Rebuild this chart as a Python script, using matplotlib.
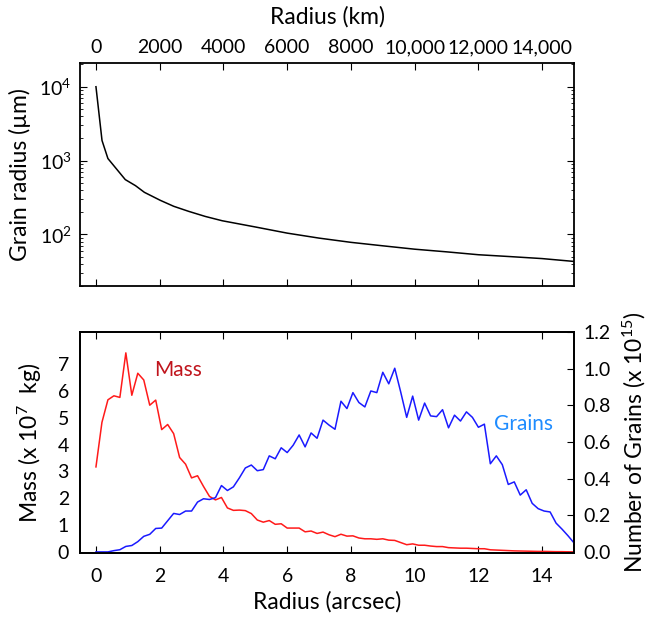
import numpy as np
import matplotlib
matplotlib.use("Agg")
import matplotlib.pyplot as plt
from matplotlib.ticker import FixedLocator, LogLocator, NullFormatter

plt.rcParams['font.family'] = ['Lato', 'DejaVu Sans']
plt.rcParams['mathtext.fontset'] = 'custom'
plt.rcParams['mathtext.rm'] = 'Lato'
plt.rcParams['mathtext.it'] = 'Lato:italic'

# grain radius vs radius (top panel)
grain_r_km = [0, 190, 375, 660, 920, 1240, 1520, 2020, 2440, 2910, 3430, 3960,
              5000, 6000, 7000, 8000, 9000, 10000, 11000, 12000, 13000, 14000, 15000]
grain_size = [10000, 1870, 1065, 755, 552, 457, 371, 289, 240, 205, 175, 153,
              126, 104, 89, 78, 70, 63, 58, 53, 50, 47, 43]

# bottom panel, 81 radial bins of 0.1875 arcsec
step = 0.1875
mass = [3.17, 4.83, 5.67, 5.82, 5.76, 7.42, 5.84, 6.66, 6.41, 5.47,
        5.66, 4.56, 4.75, 4.41, 3.52, 3.27, 2.76, 2.84, 2.44, 2.07,
        1.94, 2.03, 1.64, 1.55, 1.56, 1.54, 1.43, 1.19, 1.11, 1.17,
        1.03, 1.05, 0.89, 0.89, 0.89, 0.75, 0.78, 0.69, 0.74, 0.64,
        0.57, 0.66, 0.59, 0.60, 0.52, 0.49, 0.49, 0.47, 0.49, 0.44,
        0.43, 0.35, 0.27, 0.30, 0.25, 0.25, 0.22, 0.20, 0.20, 0.16,
        0.15, 0.14, 0.14, 0.13, 0.12, 0.12, 0.08, 0.07, 0.06, 0.05,
        0.04, 0.035, 0.03, 0.025, 0.02, 0.02, 0.015, 0.01, 0.01, 0.005,
        0.0]
grains = [0.0, 0.0, 0.0, 0.007, 0.012, 0.03, 0.035, 0.056, 0.085, 0.096,
          0.128, 0.13, 0.17, 0.21, 0.204, 0.223, 0.223, 0.272, 0.29, 0.286,
          0.296, 0.362, 0.335, 0.355, 0.404, 0.458, 0.474, 0.443, 0.449, 0.524,
          0.508, 0.568, 0.542, 0.582, 0.638, 0.573, 0.649, 0.62, 0.719, 0.692,
          0.669, 0.822, 0.782, 0.869, 0.815, 0.791, 0.878, 0.869, 0.98, 0.917,
          1.002, 0.872, 0.734, 0.85, 0.719, 0.812, 0.742, 0.738, 0.776, 0.677,
          0.746, 0.714, 0.764, 0.734, 0.68, 0.697, 0.481, 0.524, 0.476, 0.368,
          0.382, 0.31, 0.339, 0.265, 0.236, 0.223, 0.218, 0.157, 0.124, 0.088,
          0.049]
radius = np.arange(len(mass)) * step

km_ticks = [0, 2000, 4000, 6000, 8000, 10000, 12000, 14000]
km_labels = ['0', '2000', '4000', '6000', '8000', '10,000', '12,000', '14,000']

fig = plt.figure(figsize=(6.68, 6.17), dpi=100)

# top panel
ax1 = fig.add_axes([0.1198, 0.5365, 0.7395, 0.3615])
ax1.plot(grain_r_km, grain_size, color='black', lw=1.1)
ax1.set_yscale('log')
ax1.set_xlim(-500, 15000)
ax1.set_ylim(20, 2.1e4)
ax1.xaxis.set_major_locator(FixedLocator(km_ticks))
ax1.set_xticklabels(km_labels)
ax1.xaxis.set_label_position('top')
ax1.set_xlabel('Radius (km)', fontsize=16.5, labelpad=11)
ax1.set_ylabel('Grain radius (µm)', fontsize=16.5, labelpad=6)
ax1.tick_params(axis='x', which='both', direction='in', top=True, bottom=True,
                labeltop=True, labelbottom=False, length=5, pad=5, labelsize=14)
ax1.yaxis.set_major_locator(LogLocator(base=10, numticks=10))
ax1.yaxis.set_minor_locator(LogLocator(base=10, subs=np.arange(2, 10), numticks=10))
ax1.yaxis.set_minor_formatter(NullFormatter())
ax1.tick_params(axis='y', which='major', direction='in', left=True, right=True,
                length=5, pad=6, labelsize=14)
ax1.tick_params(axis='y', which='minor', direction='in', left=True, right=True,
                length=2.5)

# bottom panel
ax2 = fig.add_axes([0.1198, 0.1037, 0.7395, 0.3583])
ax3 = ax2.twinx()
ax2.plot(radius, mass, color='#ff1a1a', lw=1.1)
ax3.plot(radius, grains, color='#1a1aff', lw=1.1)
ax2.set_xlim(-0.5, 15)
ax2.set_ylim(-0.04, 8.2)
ax3.set_ylim(-0.006, 1.2)
ax2.set_xticks([0, 2, 4, 6, 8, 10, 12, 14])
ax2.set_yticks([0, 1, 2, 3, 4, 5, 6, 7])
ax3.set_yticks([0.0, 0.2, 0.4, 0.6, 0.8, 1.0, 1.2])
ax3.set_yticklabels(['0.0', '0.2', '0.4', '0.6', '0.8', '1.0', '1.2'])
ax2.tick_params(axis='x', direction='in', top=True, bottom=True, length=5,
                pad=11, labelsize=14)
ax2.tick_params(axis='y', length=0, pad=8, labelsize=14)
ax3.tick_params(axis='y', direction='in', length=5, pad=7, labelsize=14)
ax2.set_xlabel('Radius (arcsec)', fontsize=16.5, labelpad=4)
ax2.set_ylabel('Mass (x 10$^7$  kg)', fontsize=16.5, labelpad=10)
ax3.set_ylabel('Number of Grains (x 10$^{15}$)', fontsize=16.5, labelpad=7)

ax2.text(2.57, 6.8, 'Mass', color='#c0141c', fontsize=15, ha='center', va='center')
ax3.text(13.4, 0.70, 'Grains', color='#1e8cff', fontsize=15, ha='center', va='center')

for ax in (ax1, ax2, ax3):
    for s in ax.spines.values():
        s.set_linewidth(1.3)

fig.savefig('out.png', dpi=100)
